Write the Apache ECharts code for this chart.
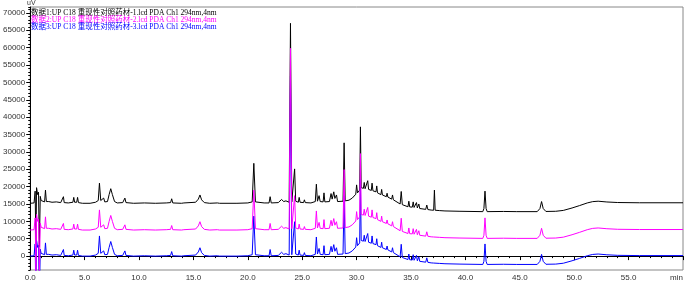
<!DOCTYPE html>
<html>
<head>
<meta charset="utf-8">
<script src="https://cdn.jsdelivr.net/npm/echarts@6/dist/echarts.min.js"></script>
<style>html,body{margin:0;padding:0;background:#fff}#c{width:694px;height:287px}</style>
</head>
<body>
<div id="c"></div>
<script>
// retention time (min), shared by the three runs
var times = [0,0.35,0.45,0.52,0.58,0.68,0.76,0.84,0.92,1.0,1.15,1.32,1.4,1.48,1.7,2.0,2.4,2.8,2.98,3.05,3.12,3.5,3.92,4.0,4.08,4.27,4.35,4.43,4.8,5.5,6.0,6.25,6.36,6.48,6.65,6.75,6.85,7.1,7.25,7.4,7.55,7.75,8.0,8.5,8.62,8.7,8.8,9.5,10.5,11.5,12.5,12.9,13.0,13.1,13.9,14.12,14.2,14.3,15.2,15.45,15.6,15.75,16.0,16.5,17.2,17.3,17.4,19.0,20.0,20.4,20.55,20.7,21.5,21.95,22.05,22.15,22.8,23.1,23.3,23.5,23.8,23.92,24.04,24.2,24.3,24.4,24.64,24.72,24.8,25.12,25.2,25.28,25.8,26.2,26.3,26.4,26.55,26.65,26.92,27.0,27.08,27.5,27.65,27.75,27.9,28.0,28.15,28.25,28.75,28.85,28.95,29.3,29.6,29.92,30.0,30.08,30.28,30.35,30.42,30.62,30.7,30.78,30.95,31.02,31.1,31.35,31.42,31.5,31.78,31.85,31.92,32.23,32.3,32.37,32.73,32.8,32.87,33.22,33.3,33.38,34.0,34.1,34.2,34.72,34.8,34.88,35.12,35.2,35.28,35.45,35.5,35.58,35.65,35.72,35.8,36.35,36.45,36.55,36.85,36.92,37.0,37.08,37.15,37.22,37.6,38.12,38.2,38.28,39.5,41.6,41.7,41.8,41.9,42.0,43.5,44.72,44.8,44.88,46.6,46.85,47.0,47.15,47.4,48.3,49.0,49.8,50.5,50.58,50.66,51.2,51.7,52.2,53.0,54.0,56.0,60.0];

// run 1 (black), uV
var run1 = [15200,15300,18700,2700,19700,17700,18400,2700,17200,16000,15700,15600,19000,15700,15700,15500,15600,15400,15500,17100,15400,15300,15500,16900,15500,15500,16900,15400,15200,15200,15500,16000,21000,16000,15900,16700,15600,15700,17700,19400,17700,15700,15300,15400,15500,16700,15400,15200,15300,15200,15300,15400,16500,15300,15200,15300,15800,15200,15500,16400,17600,16200,15400,15200,15300,15500,15200,15200,15300,15600,26700,15600,15300,15300,17100,15300,15400,16300,15700,15900,15500,67000,15600,16000,25100,15800,15500,16900,15500,15400,16200,15400,15300,15700,20700,15800,17400,15700,15600,18200,15600,15700,18000,16400,18500,16600,17600,15700,15800,32600,15900,16100,16700,17800,20500,18200,19000,37200,19700,19500,21200,19400,19300,21700,19200,18900,21000,18800,18500,20200,18200,17700,19200,17600,17100,18100,17000,16400,17600,16200,15000,18600,14800,14200,15800,14150,14100,15600,14000,13900,15400,13850,13800,15000,13700,13450,14700,13400,13250,13500,13200,13200,19000,13200,13100,13000,13400,13000,12900,12800,13700,18700,13700,12800,12850,12800,13200,12800,12800,13700,15700,13700,12850,12900,13150,13850,14550,14900,14750,15300,15680,15800,15580,15420,15350,15350];

// run 2 (magenta), uV
var run2 = [7500,7600,11000,-5000,12000,10000,10700,-5000,9500,8300,8000,7900,11300,8000,8000,7800,7900,7700,7800,9400,7700,7600,7800,9200,7800,7800,9200,7700,7500,7500,7800,8300,13300,8300,8200,9000,7900,8000,10000,11700,10000,8000,7600,7700,7800,9000,7700,7500,7600,7500,7600,7700,8800,7600,7500,7600,8100,7500,7800,8700,9900,8500,7700,7500,7600,7800,7500,7500,7600,7900,19000,7900,7600,7600,9400,7600,7700,8600,8000,8200,7800,59800,7900,8300,17400,8100,7800,9200,7800,7700,8500,7700,7600,8000,13000,8100,9700,8000,7900,10500,7900,8000,10300,8700,10800,8900,9900,8000,8100,24900,8200,8400,9000,10100,12800,10500,11300,29500,12000,11800,13500,11700,11600,14000,11500,11200,13300,11100,10800,12500,10500,10000,11500,9900,9400,10400,9300,8700,9900,8500,7300,10900,7100,6500,8100,6450,6400,7900,6300,6200,7700,6150,6100,7300,6000,5750,7000,5700,5550,5800,5500,5500,5500,5500,5400,5300,5700,5300,5200,5100,6000,11000,6000,5100,5150,5100,5500,5100,5100,6000,8000,6000,5150,5200,5450,6150,6850,7200,7050,7600,7980,8100,7880,7720,7650,7650];

// run 3 (blue), uV
var run3 = [0,100,3500,-12500,4500,2500,3200,-12500,2000,800,500,400,3800,500,500,300,400,200,300,1900,200,100,300,1700,300,300,1700,200,0,0,300,800,5800,800,700,1500,400,500,2500,4200,2500,500,100,200,300,1500,200,0,100,0,100,200,1300,100,0,100,600,0,300,1200,2400,1000,200,0,100,300,0,0,100,400,11500,400,100,100,1900,100,200,1100,500,700,300,51800,400,800,9900,600,300,1700,300,200,1000,200,100,500,5500,600,2200,500,400,3000,400,500,2800,1200,3300,1400,2400,500,600,17400,700,900,1500,2600,5300,3000,3800,22000,4500,4300,6000,4200,4100,6500,4000,3700,5800,3600,3300,5000,3000,2500,4000,2400,1900,2900,1800,1200,2400,1000,-200,3400,-400,-1000,600,-1050,-1100,400,-1200,-1300,200,-1350,-1400,-200,-1500,-1750,-500,-1800,-1950,-1700,-2000,-2000,-2000,-2000,-2100,-2200,-1800,-2200,-2300,-2400,-1500,3500,-1500,-2400,-2350,-2400,-2000,-2400,-2400,-1500,500,-1500,-2350,-2300,-2050,-1350,-650,-300,-450,100,480,600,380,220,150,150];

var seriesNames = [
  '数据1:UP C18 重现性对照药材-1.lcd PDA Ch1 294nm,4nm',
  '数据2:UP C18 重现性对照药材-2.lcd PDA Ch1 294nm,4nm',
  '数据3:UP C18 重现性对照药材-3.lcd PDA Ch1 294nm,4nm'
];
var seriesColors = ['#000000', '#ff00ff', '#0000ff'];
var yTickValues = [0,5000,10000,15000,20000,25000,30000,35000,40000,45000,50000,55000,60000,65000,70000];
var yUnit = 'uV';
var xUnit = 'min';

function pairs(vals){ return times.map(function(t,i){ return [t, vals[i]]; }); }

var chart = echarts.init(document.getElementById('c'), null, {renderer:'canvas'});
var axisFont = {fontFamily:'Liberation Sans, Arial, sans-serif', fontSize:8, color:'#333'};
var legendFont = 'Liberation Serif, Noto Sans CJK SC, serif';

chart.setOption({
  animation:false,
  backgroundColor:'#fff',
  grid:{left:30, right:11, top:7, bottom:17, show:true, borderColor:'#888', borderWidth:1},
  xAxis:{
    type:'value', min:0, max:60, interval:5,
    axisLine:{show:true, lineStyle:{color:'#000', width:1}},
    axisTick:{show:true, length:4, lineStyle:{color:'#000'}},
    minorTick:{show:true, splitNumber:5, length:2, lineStyle:{color:'#000'}},
    splitLine:{show:false},
    axisLabel:Object.assign({margin:4, alignMaxLabel:'right', formatter:function(v){ return v===60 ? xUnit : v.toFixed(1); }}, axisFont)
  },
  yAxis:[{
    type:'value', min:-4000, max:71700,
    axisLine:{show:true, onZero:false, lineStyle:{color:'#000', width:1}},
    axisTick:{show:true, length:4, customValues:yTickValues, lineStyle:{color:'#000'}},
    splitLine:{show:false},
    axisLabel:Object.assign({margin:5, customValues:yTickValues, formatter:function(v){ return String(v); }}, axisFont)
  },{
    type:'value', min:-4000, max:71700, interval:1000, position:'left',
    axisLine:{show:false},
    axisTick:{show:true, length:2, lineStyle:{color:'#000'}},
    axisLabel:{show:false},
    splitLine:{show:false}
  }],
  graphic:[
    {type:'text', left:27, top:0, style:{text:yUnit, font:'7px Liberation Sans, Arial, sans-serif', fill:'#333'}},
    {type:'text', left:31, top:9, style:{text:seriesNames[0], font:'7.5px ' + legendFont, fill:seriesColors[0]}},
    {type:'text', left:31, top:16, style:{text:seriesNames[1], font:'7.5px ' + legendFont, fill:seriesColors[1]}},
    {type:'text', left:31, top:23, style:{text:seriesNames[2], font:'7.5px ' + legendFont, fill:seriesColors[2]}}
  ],
  series:[
    {name:seriesNames[0], type:'line', data:pairs(run1), showSymbol:false, symbol:'none', lineStyle:{color:seriesColors[0], width:1}, z:2},
    {name:seriesNames[2], type:'line', data:pairs(run3), showSymbol:false, symbol:'none', lineStyle:{color:seriesColors[2], width:1}, z:3},
    {name:seriesNames[1], type:'line', data:pairs(run2), showSymbol:false, symbol:'none', lineStyle:{color:seriesColors[1], width:1}, z:4}
  ]
});
</script>
</body>
</html>
